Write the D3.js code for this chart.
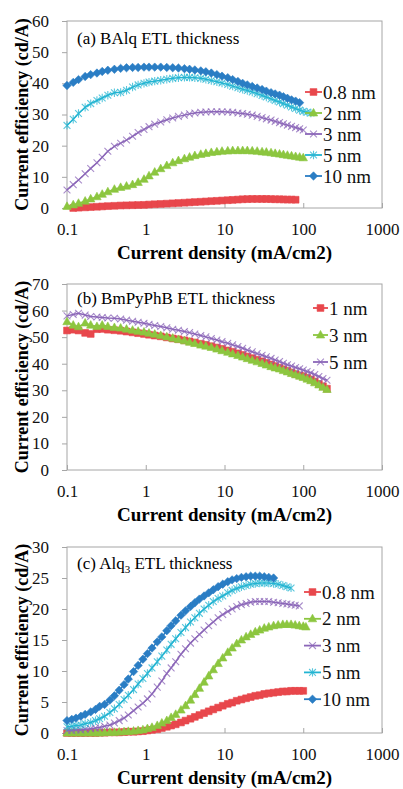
<!DOCTYPE html>
<html>
<head>
<meta charset="utf-8">
<script src="https://cdn.jsdelivr.net/npm/d3@7"></script>
<style>
  body { margin: 0; background: #fff; }
  svg text { font-family: "Liberation Serif", "DejaVu Serif", "Times New Roman", serif; }
</style>
</head>
<body>
<div id="app"></div>
<script>
// ---- data: current density grids (mA/cm2) and current efficiency (cd/A) ----
const densityA = [0.1, 0.12, 0.14, 0.17, 0.2, 0.24, 0.28, 0.33, 0.4, 0.48, 0.57, 0.68, 0.8, 0.95, 1.1, 1.3, 1.55, 1.85, 2.2, 2.6,
    3.1, 3.6, 4.2, 5, 5.8, 6.8, 8, 9.3, 11, 12.7, 14.8, 17, 19.5, 22.5, 26, 30, 34, 39, 44, 50, 56, 63, 71, 80, 90, 100, 112, 125]
const balq08 = [null, 0.0, 0.1, 0.2, 0.3, 0.4, 0.5, 0.6, 0.7, 0.8, 0.85, 0.9, 0.95, 1.0, 1.1, 1.2, 1.3, 1.4, 1.5, 1.6,
    1.7, 1.8, 1.9, 2.0, 2.1, 2.2, 2.3, 2.4, 2.5, 2.6, 2.7, 2.8, 2.85, 2.9, 2.9, 2.9, 2.9, 2.85, 2.8, 2.8, 2.75, 2.7, 2.7, 2.65]
const balq2 = [0.5, 1.0, 1.5, 2.2, 2.9, 3.6, 4.4, 5.2, 6.0, 6.6, 7.0, 7.5, 8.2, 9.2, 10.3, 11.5, 12.6, 13.6, 14.5, 15.2,
    15.8, 16.3, 16.8, 17.2, 17.5, 17.8, 18.0, 18.2, 18.3, 18.4, 18.4, 18.4, 18.4, 18.3, 18.2, 18.0, 17.9, 17.7, 17.5, 17.3,
    17.1, 16.9, 16.7, 16.5, 16.3, 16.1]
const balq3 = [5.8, 7.5, 9.0, 11.0, 12.7, 14.5, 16.3, 18.2, 19.8, 20.8, 21.8, 23.0, 24.2, 25.2, 26.1, 26.9, 27.6, 28.3, 28.9, 29.4,
    29.8, 30.2, 30.5, 30.7, 30.8, 30.9, 30.9, 30.9, 30.8, 30.7, 30.5, 30.3, 30.1, 29.8, 29.4, 29.0, 28.6, 28.2, 27.8, 27.4,
    27.0, 26.6, 26.2, 25.8, 25.4, 25.0]
const balq5 = [26.5, 28.5, 30.3, 32.3, 33.5, 34.5, 35.3, 36.2, 37.0, 37.1, 37.8, 38.8, 39.5, 40.0, 40.4, 40.7, 41.0, 41.3, 41.6, 41.8,
    41.9, 41.9, 41.8, 41.6, 41.3, 40.9, 40.5, 40.1, 39.6, 39.1, 38.6, 38.1, 37.7, 37.2, 36.7, 36.1, 35.6, 35.0, 34.5, 34.0,
    33.5, 33.0, 32.4, 31.9, 31.4, 31.0, 30.7, 30.5]
const balq10 = [39.3, 40.3, 41.2, 42.2, 42.8, 43.3, 43.8, 44.2, 44.5, 44.8, 45.0, 45.1, 45.1, 45.2, 45.2, 45.2, 45.2, 45.1, 45.0, 44.9,
    44.7, 44.5, 44.3, 44.0, 43.7, 43.3, 42.8, 42.3, 41.8, 41.2, 40.6, 40.0, 39.5, 39.0, 38.5, 38.0, 37.5, 37.0, 36.6, 36.2,
    35.7, 35.2, 34.7, 34.3, 33.8]
const balqLabels = ["0.8 nm", "2 nm", "3 nm", "5 nm", "10 nm"]

const densityB = [0.1, 0.12, 0.14, 0.17, 0.2, 0.24, 0.28, 0.33, 0.4, 0.48, 0.57, 0.68, 0.8, 0.95, 1.1, 1.3, 1.55, 1.85, 2.2, 2.6,
    3.1, 3.6, 4.2, 5, 5.8, 6.8, 8, 9.3, 11, 12.7, 14.8, 17, 19.5, 22.5, 26, 30, 34, 39, 44, 50, 56, 63, 71, 80, 90, 100,
    112, 125, 140, 158, 178, 200]
const bmpy1 = [52.5, 52.8, 52.5, 51.6, 51.2, 53.0, 53.1, 52.8, 52.6, 52.4, 52.1, 51.8, 51.5, 51.2, 50.9, 50.6, 50.3, 49.9, 49.5, 49.2,
    48.8, 48.4, 48.0, 47.5, 47.1, 46.6, 46.1, 45.6, 45.0, 44.5, 43.9, 43.3, 42.7, 42.1, 41.5, 40.9, 40.3, 39.7, 39.1, 38.5,
    37.9, 37.3, 36.7, 36.1, 35.6, 35.3, 34.7, 34.1, 33.3, 32.4, 31.5, 30.6]
const bmpy3 = [55.8, 54.5, 53.9, 55.3, 54.5, 54.0, 54.5, 54.0, 53.6, 53.4, 53.0, 52.6, 52.2, 51.9, 51.5, 51.1, 50.6, 50.1, 49.6, 49.1,
    48.6, 48.1, 47.6, 47.0, 46.6, 46.1, 45.5, 44.9, 44.3, 43.7, 43.1, 42.5, 41.9, 41.3, 40.7, 40.1, 39.5, 38.9, 38.4, 38.0,
    37.4, 36.9, 36.3, 35.8, 35.3, 34.8, 34.2, 33.6, 32.8, 32.0, 31.1, 30.3]
const bmpy5 = [58.0, 58.5, 59.0, 58.3, 57.8, 57.6, 57.4, 57.2, 57.1, 56.8, 56.4, 56.0, 55.6, 55.2, 54.8, 54.4, 54.0, 53.5, 53.0, 52.6,
    52.1, 51.7, 51.2, 50.6, 50.1, 49.5, 48.9, 48.3, 47.7, 47.1, 46.5, 45.8, 45.1, 44.5, 43.8, 43.2, 42.6, 42.0, 41.4, 40.8,
    40.2, 39.6, 39.1, 38.6, 38.1, 37.6, 37.1, 36.6, 35.9, 35.2, 34.4, 33.8]
const bmpyLabels = ["1 nm", "3 nm", "5 nm"]

const densityC = [0.1, 0.115, 0.13, 0.15, 0.17, 0.2, 0.23, 0.26, 0.3, 0.35, 0.4, 0.46, 0.53, 0.6, 0.7, 0.8, 0.92, 1.05, 1.2, 1.4,
    1.6, 1.85, 2.1, 2.4, 2.8, 3.2, 3.7, 4.2, 4.8, 5.5, 6.3, 7.2, 8.3, 9.5, 11, 12.5, 14.3, 16.4, 18.8, 21.5,
    24.6, 28, 32, 36.5, 42, 48, 55, 62, 70, 79, 89, 100, 108]
const alq08 = [0.0, 0.0, 0.0, 0.0, 0.0, 0.0, 0.0, 0.05, 0.05, 0.1, 0.1, 0.1, 0.15, 0.2, 0.2, 0.25, 0.3, 0.4, 0.5, 0.6,
    0.8, 1.0, 1.2, 1.4, 1.7, 2.0, 2.3, 2.6, 2.9, 3.2, 3.5, 3.8, 4.1, 4.4, 4.7, 4.9, 5.2, 5.4, 5.6, 5.8,
    6.0, 6.1, 6.3, 6.4, 6.5, 6.6, 6.7, 6.7, 6.8, 6.8, 6.8, 6.8]
const alq2 = [0.0, 0.0, 0.0, 0.0, 0.0, 0.0, 0.0, 0.0, 0.05, 0.1, 0.1, 0.15, 0.2, 0.25, 0.3, 0.4, 0.5, 0.7, 0.9, 1.2,
    1.6, 2.0, 2.5, 3.0, 3.7, 4.4, 5.3, 6.2, 7.2, 8.2, 9.2, 10.2, 11.2, 12.1, 13.0, 13.7, 14.4, 15.0, 15.5, 15.9,
    16.3, 16.6, 16.9, 17.1, 17.3, 17.4, 17.5, 17.5, 17.5, 17.4, 17.3, 17.2, 17.1]
const alq3 = [0.4, 0.4, 0.5, 0.5, 0.6, 0.7, 0.8, 0.9, 1.1, 1.3, 1.6, 2.0, 2.4, 2.9, 3.6, 4.2, 4.8, 5.5, 6.3, 7.4,
    8.4, 9.6, 10.5, 11.5, 12.7, 13.6, 14.5, 15.2, 15.9, 16.6, 17.3, 17.9, 18.6, 19.1, 19.6, 20.0, 20.4, 20.7, 20.9, 21.1,
    21.2, 21.2, 21.2, 21.2, 21.1, 21.0, 20.9, 20.8, 20.7, 20.6, 20.5]
const alq5 = [1.0, 1.1, 1.2, 1.3, 1.5, 1.7, 2.0, 2.3, 2.7, 3.3, 3.9, 4.6, 5.4, 6.1, 7.0, 7.9, 8.8, 9.6, 10.5, 11.5,
    12.4, 13.4, 14.3, 15.2, 16.2, 17.0, 17.9, 18.6, 19.3, 20.0, 20.6, 21.2, 21.7, 22.1, 22.6, 23.0, 23.3, 23.6, 23.8, 24.0,
    24.1, 24.2, 24.2, 24.2, 24.1, 24.0, 23.8, 23.6, 23.4]
const alq10 = [2.0, 2.2, 2.4, 2.7, 3.0, 3.4, 3.8, 4.3, 4.6, 5.3, 6.0, 6.9, 7.8, 8.7, 9.9, 10.9, 11.9, 12.8, 13.7, 14.7,
    15.5, 16.5, 17.3, 18.1, 19.0, 19.7, 20.4, 21.0, 21.6, 22.1, 22.6, 23.1, 23.6, 24.0, 24.4, 24.7, 24.9, 25.1, 25.2, 25.3,
    25.3, 25.3, 25.2, 25.1, 25.0]
const alqLabels = ["0.8 nm", "2 nm", "3 nm", "5 nm", "10 nm"]

const xTicks = [0.1, 1, 10, 100, 1000]

// ---- layout / style ----
const width = 403
const height = 789
const plotLeft = 67
const plotRight = 382
const colors = ["#e8474c", "#8cc63f", "#8b66b8", "#22b4d2", "#2a7dc4"]
const shapes = ["square", "triangle", "cross", "star", "diamond"]

const markerPath = {
    square: "M-3.4,-3.4h6.8v6.8h-6.8z",
    triangle: "M0,-4.6L4.2,3L-4.2,3Z",
    cross: "M-3.4,-3.4L3.4,3.4M-3.4,3.4L3.4,-3.4",
    star: "M-3.4,-3.4L3.4,3.4M-3.4,3.4L3.4,-3.4M0,-4.2V4.2",
    diamond: "M0,-4.2L4.2,0L0,4.2L-4.2,0Z",
}
const filled = { square: true, triangle: true, diamond: true }

const panels = [
    {
        top: 21, bottom: 208, yMax: 60, yStep: 10, J: densityA,
        series: [balq08, balq2, balq3, balq5, balq10], labels: balqLabels,
        title: [["(a) BAlq ETL thickness"]], titleY: 44,
        legend: { x1: 305, x2: 322, y0: 92, dy: 21 },
    },
    {
        top: 284, bottom: 470, yMax: 70, yStep: 10, J: densityB,
        series: [bmpy1, bmpy3, bmpy5], labels: bmpyLabels,
        title: [["(b) BmPyPhB ETL thickness"]], titleY: 304,
        legend: { x1: 313, x2: 328, y0: 308, dy: 27 },
    },
    {
        top: 547, bottom: 733, yMax: 30, yStep: 5, J: densityC,
        series: [alq08, alq2, alq3, alq5, alq10], labels: alqLabels,
        title: [["(c) Alq"], ["3", "sub"], [" ETL thickness"]], titleY: 569,
        legend: { x1: 304, x2: 321, y0: 592, dy: 26.8 },
    },
]

const svg = d3.select("#app").append("svg")
    .attr("width", width)
    .attr("height", height)
    .style("display", "block")
    .style("background", "#fff")

const drawMarker = (g, shape, color) => g.append("path")
    .attr("d", markerPath[shape])
    .attr("fill", filled[shape] ? color : "none")
    .attr("stroke", color)
    .attr("stroke-width", filled[shape] ? 0.6 : 1.1)
    .attr("stroke-opacity", filled[shape] ? 1 : 0.75)

panels.forEach(p => {
    const x = d3.scaleLog().domain([0.1, 1000]).range([plotLeft, plotRight])
    const y = d3.scaleLinear().domain([0, p.yMax]).range([p.bottom, p.top])
    const g = svg.append("g")

    // plot frame
    g.append("rect")
        .attr("x", plotLeft).attr("y", p.top)
        .attr("width", plotRight - plotLeft).attr("height", p.bottom - p.top)
        .attr("fill", "none").attr("stroke", "#a6a6a6").attr("stroke-width", 1)

    // axes
    const yAxis = g.append("g")
        .attr("transform", `translate(${plotLeft},0)`)
        .call(d3.axisLeft(y).tickValues(d3.range(0, p.yMax + 1, p.yStep)).tickSize(5).tickPadding(13))
    const xAxis = g.append("g")
        .attr("transform", `translate(0,${p.bottom})`)
        .call(d3.axisBottom(x).tickValues(xTicks).tickFormat(d => String(d)).tickSize(-5).tickPadding(15))
    ;[xAxis, yAxis].forEach(a => {
        a.attr("font-family", null)
        a.select(".domain").remove()
        a.selectAll(".tick line").attr("stroke", "#a6a6a6")
        a.selectAll(".tick text").attr("font-size", 17).attr("fill", "#111")
    })

    // axis titles
    g.append("text")
        .attr("x", (plotLeft + plotRight) / 2).attr("y", p.bottom + 51)
        .attr("text-anchor", "middle").attr("font-weight", "bold").attr("font-size", 19)
        .text("Current density (mA/cm2)")
    g.append("text")
        .attr("transform", `translate(22,${(p.top + p.bottom) / 2}) rotate(-90)`)
        .attr("dy", "0.35em")
        .attr("text-anchor", "middle").attr("font-weight", "bold").attr("font-size", 18)
        .text("Current efficiency (cd/A)")

    // panel caption
    const cap = g.append("text").attr("x", 77).attr("y", p.titleY).attr("font-size", 17)
    p.title.forEach(([t, kind], k) => {
        const ts = cap.append("tspan").text(t)
        if (kind === "sub") ts.attr("font-size", 11).attr("dy", 4)
        else if (k > 0) ts.attr("dy", -4)
    })

    // series
    const line = d3.line()
        .defined(d => d[1] != null)
        .x(d => x(d[0]))
        .y(d => y(d[1]))
    p.series.forEach((vals, i) => {
        const pts = vals.map((v, k) => [p.J[k], v])
        const color = colors[i]
        g.append("path")
            .attr("d", line(pts))
            .attr("fill", "none").attr("stroke", color).attr("stroke-width", 1.5)
        pts.filter(d => d[1] != null).forEach(d => {
            const m = g.append("g").attr("transform", `translate(${x(d[0])},${y(d[1])})`)
            drawMarker(m, shapes[i], color)
        })
    })

    // legend
    p.labels.forEach((lab, i) => {
        const ly = p.legend.y0 + i * p.legend.dy
        const color = colors[i]
        g.append("line")
            .attr("x1", p.legend.x1).attr("x2", p.legend.x2)
            .attr("y1", ly).attr("y2", ly)
            .attr("stroke", color).attr("stroke-width", 1.8)
        const m = g.append("g").attr("transform", `translate(${(p.legend.x1 + p.legend.x2) / 2},${ly})`)
        drawMarker(m, shapes[i], color)
        g.append("text")
            .attr("x", p.legend.x2 + 1).attr("y", ly).attr("dy", "0.35em")
            .attr("font-size", 19).attr("fill", "#111")
            .text(lab)
    })
})
</script>
</body>
</html>
